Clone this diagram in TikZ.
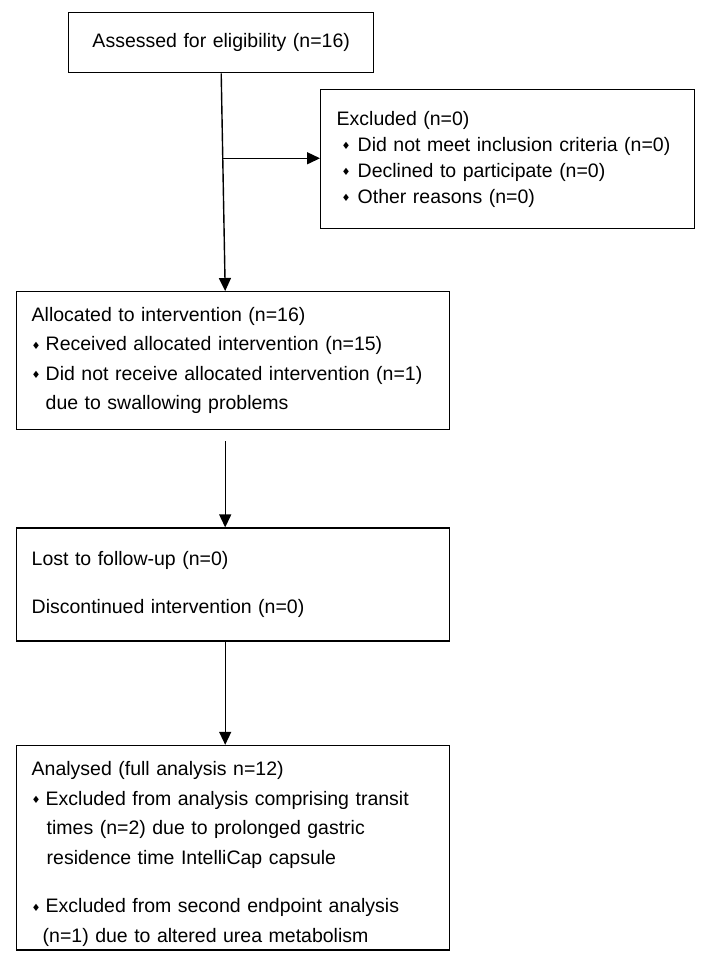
\documentclass[tikz,border=0pt]{standalone}
\usepackage{fontspec}
\setmainfont{Liberation Sans}
\newfontfamily\symfont{DejaVu Sans}
\usetikzlibrary{
  arrows.meta,
  positioning
}

\newcommand{\bul}[1][14pt]{\makebox[#1][l]{\raisebox{1.5pt}{\symfont\fontsize{10}{10}\selectfont ♦}}}

\begin{document}
\begin{tikzpicture}[
  x=1pt, y=-1pt,
  flowbox/.style={
    rectangle, draw=black, line width=1.4pt,
    align=left, anchor=north west,
    font=\fontsize{19.5}{29.5}\selectfont,
    inner xsep=15pt, inner ysep=4pt
  },
  arr/.style={
    -{Triangle[length=13pt,width=12pt]}, line width=1.4pt
  }
]
  \useasboundingbox (0,0) rectangle (706,958);

  \node[flowbox, align=center, text width=275pt, minimum height=60pt]
    (assess) at (68,12) {Assessed for eligibility (n=16)};
  \node[flowbox, text width=342pt, minimum height=139pt, inner xsep=16pt,
    font=\fontsize{19.5}{26}\selectfont]
    (excl) at (320,89) {Excluded (n=0)\\
    \hspace*{5pt}\bul[16pt]Did not meet inclusion criteria (n=0)\\
    \hspace*{5pt}\bul[16pt]Declined to participate (n=0)\\
    \hspace*{5pt}\bul[16pt]Other reasons (n=0)};
  \node[flowbox, text width=403pt, minimum height=138pt]
    (alloc) at (16,291) {Allocated to intervention (n=16)\\
    \bul Received allocated intervention (n=15)\\
    \bul Did not receive allocated intervention (n=1)\\
    \hspace*{14pt}due to swallowing problems};
  \node[flowbox, text width=403pt, minimum height=113pt, below=97pt of alloc]
    (lost) {Lost to follow-up (n=0)\\[18pt]
    Discontinued intervention (n=0)};
  \node[flowbox, text width=403pt, minimum height=204pt, below=103pt of lost]
    (anal) {\rule{0pt}{26pt}Analysed (full analysis n=12)\\
    \bul Excluded from analysis comprising transit\\
    \hspace*{15pt}times (n=2) due to prolonged gastric\\
    \hspace*{15pt}residence time IntelliCap capsule\\[19pt]
    \bul Excluded from second endpoint analysis\\
    \hspace*{11pt}(n=1) due to altered urea metabolism};

  % enrolment line with side branch to the excluded box
  \draw[arr] (assess.south) -- coordinate[pos=0.39] (split)
    ([xshift=-8pt]alloc.north);
  \draw[arr] (split) -- (split -| excl.west);

  \draw[arr] ([xshift=-8pt,yshift=-11pt]alloc.south) -- ([xshift=-8pt]lost.north);
  \draw[arr] ([xshift=-8pt]lost.south) -- ([xshift=-8pt]anal.north);
\end{tikzpicture}
\end{document}
